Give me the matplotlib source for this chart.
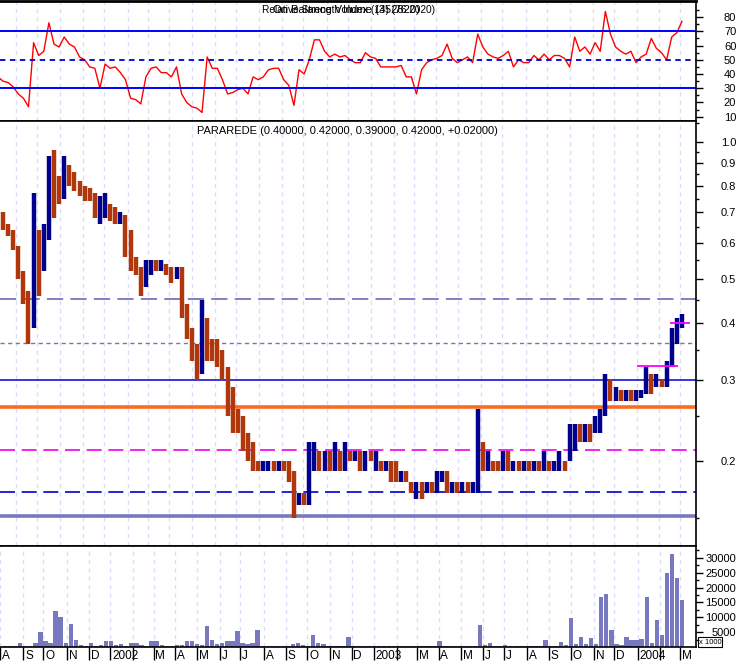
import numpy as np
import pandas as pd
import matplotlib
matplotlib.use("Agg")
import matplotlib.pyplot as plt
from matplotlib.ticker import FixedLocator, NullFormatter, FuncFormatter

plt.rcParams['font.family'] = ['Liberation Sans', 'DejaVu Sans']

# weekly data, first week starts Monday 2001-08-06
start = "2001-08-06"
n_weeks = 135

wk_low = [
    .68, .64, .62, .58, .50, .44, .36, .39, .46, .52,
    .61, .68, .73, .75, .80, .78, .76, .74, .74, .68,
    .66, .68, .67, .66, .66, .56, .52, .51, .46, .48,
    .51, .52, .52, .51, .49, .50, .41, .37, .33, .30,
    .31, .33, .33, .32, .30, .25, .23, .23, .21, .20,
    .19, .19, .19, .19, .19, .19, .19, .18, .15, .16,
    .16, .16, .19, .19, .19, .19, .19, .19, .19, .20,
    .20, .19, .19, .20, .19, .19, .19, .18, .18, .18,
    .18, .17, .165, .165, .17, .17, .17, .18, .17, .17,
    .17, .17, .17, .17, .17, .19, .19, .19, .19, .19,
    .19, .19, .19, .19, .19, .19, .19, .19, .19, .19,
    .19, .19, .20, .21, .22, .22, .22, .23, .23, .25,
    .27, .27, .27, .27, .27, .27, .275, .28, .28, .29,
    .29, .29, .32, .36, .39,
]
wk_high = [
    .71, .70, .66, .64, .59, .52, .47, .77, .64, .66,
    .93, .96, .84, .93, .89, .86, .82, .80, .79, .77,
    .76, .77, .73, .72, .70, .69, .64, .56, .53, .55,
    .55, .55, .55, .54, .53, .53, .53, .44, .39, .36,
    .45, .41, .37, .37, .35, .32, .29, .26, .25, .23,
    .22, .20, .20, .20, .20, .20, .20, .20, .19, .17,
    .17, .22, .22, .21, .21, .21, .22, .21, .22, .21,
    .21, .21, .21, .21, .21, .20, .20, .20, .20, .19,
    .19, .18, .18, .18, .18, .18, .19, .19, .19, .18,
    .18, .18, .18, .18, .26, .22, .21, .20, .20, .21,
    .21, .20, .20, .20, .20, .20, .20, .21, .20, .20,
    .21, .20, .24, .24, .24, .24, .24, .25, .26, .31,
    .30, .29, .285, .285, .285, .285, .285, .32, .31, .31,
    .30, .33, .39, .41, .42,
]
wk_close = [
    .69, .65, .63, .59, .51, .46, .40, .60, .53, .63,
    .88, .80, .76, .88, .84, .80, .79, .76, .75, .70,
    .72, .73, .69, .68, .69, .58, .55, .52, .48, .53,
    .54, .53, .54, .52, .51, .52, .43, .38, .35, .31,
    .38, .36, .35, .33, .31, .26, .25, .24, .22, .21,
    .20, .19, .20, .20, .19, .20, .19, .18, .16, .165,
    .16, .20, .21, .20, .21, .20, .21, .20, .21, .20,
    .21, .20, .21, .20, .20, .19, .20, .19, .18, .19,
    .18, .17, .175, .17, .18, .17, .18, .19, .17, .18,
    .17, .18, .17, .175, .22, .20, .21, .20, .19, .21,
    .19, .20, .19, .20, .19, .20, .19, .20, .19, .20,
    .21, .20, .22, .23, .22, .23, .22, .24, .25, .29,
    .28, .28, .27, .28, .27, .28, .28, .31, .30, .30,
    .29, .32, .37, .38, .42,
]
rsi = [
    38, 35, 34, 31, 26, 23, 17, 62, 53, 56,
    76, 61, 59, 66, 61, 59, 52, 50, 45, 44,
    30, 47, 44, 45, 41, 36, 23, 22, 19, 38,
    44, 45, 41, 41, 38, 45, 26, 20, 17, 16,
    13, 52, 44, 44, 36, 26, 27, 29, 30, 26,
    38, 36, 38, 43, 44, 44, 36, 32, 18, 43,
    40, 50, 64, 64, 56, 52, 54, 52, 53, 50,
    48, 48, 55, 52, 51, 45, 45, 45, 45, 46,
    38, 38, 26, 43, 48, 50, 51, 53, 61, 51,
    48, 50, 52, 48, 68, 59, 54, 52, 51, 53,
    56, 45, 50, 48, 48, 53, 50, 54, 50, 53,
    53, 51, 45, 66, 56, 59, 54, 62, 56, 84,
    68, 59, 56, 54, 56, 48, 52, 54, 65, 58,
    55, 50, 66, 69, 77,
]
volume = [
    300, 200, 300, 1200, 400, 500, 1500, 4900, 2000, 1200,
    12000, 10000, 1200, 7700, 2400, 800, 500, 1300, 400, 800,
    1900, 1900, 600, 1100, 500, 1300, 1300, 600, 500, 1900,
    1900, 600, 500, 400, 600, 700, 1900, 1900, 900, 700,
    7100, 2400, 900, 1200, 1900, 1900, 5500, 1500, 1000, 1300,
    5800, 500, 450, 450, 300, 300, 400, 1000, 1300, 600,
    500, 4100, 1300, 900, 400, 300, 300, 300, 3200, 500,
    500, 400, 300, 300, 300, 200, 300, 300, 200, 300,
    300, 200, 300, 300, 300, 300, 1900, 500, 300, 300,
    200, 200, 300, 300, 7300, 600, 1300, 500, 300, 600,
    300, 400, 300, 300, 300, 300, 300, 2400, 300, 400,
    1700, 600, 9700, 1100, 3300, 1100, 3000, 1100, 17000, 17900,
    5800, 1100, 800, 3300, 2500, 2500, 2700, 17000, 1500, 9100,
    4100, 25000, 31300, 23200, 15700,
]

# horizontal study lines on price panel: (level, color, linewidth, dashes)
levels = [
    (0.452, "#7676bc", 1.3, (9, 4)),
    (0.3616, "#7676aa", 1.0, (3, 2.5)),
    (0.30, "#0000cc", 1.1, None),
    (0.262, "#ff6a22", 2.6, None),
    (0.211, "#ee00ee", 1.2, (9, 4)),
    (0.1707, "#0000cc", 1.2, (9, 4)),
    (0.151, "#7878c0", 2.6, None),
]
# short magenta resistance marks: (from, to, level)
marks = [("2004-01-01", "2004-02-26", 0.322), ("2004-02-16", "2004-03-15", 0.40)]

month_labels = ["A", "S", "O", "N", "D",
                "2002", "", "M", "A", "M", "J", "J", "A", "S", "O", "N", "D",
                "2003", "", "M", "A", "M", "J", "J", "A", "S", "O", "N", "D",
                "2004", "", "M"]

W, H = 741, 663
fig = plt.figure(figsize=(W / 100, H / 100), dpi=100)
fig.patch.set_facecolor("white")


def ax_at(x0, y0, x1, y1):
    return fig.add_axes([x0 / W, 1 - y1 / H, (x1 - x0) / W, (y1 - y0) / H])


ax_rsi = ax_at(0, 1, 696, 121)
ax_px = ax_at(0, 121, 696, 546)
ax_vol = ax_at(0, 546, 696, 647)

d0 = np.datetime64(start)
x = np.arange(n_weeks) * 5 + 2
months = pd.date_range("2001-08-01", "2004-03-01", freq="MS").values.astype("datetime64[D]")
tick_x = np.busday_count(d0, months)
xlim = (4.1, 4.1 + 696 / 1.021)

up = [True] + [wk_close[i] >= wk_close[i - 1] for i in range(1, n_weeks)]
cols = ["#00008f" if u else "#b0360c" for u in up]

for ax in (ax_rsi, ax_px, ax_vol):
    ax.set_xlim(*xlim)
    for t in tick_x:
        ax.axvline(t, color="#dcdcf6", lw=1, dashes=(3, 3), zorder=0)
    ax.spines["left"].set_visible(False)
    for s in ("top", "bottom", "right"):
        ax.spines[s].set_color("black")
        ax.spines[s].set_linewidth(1.2)
    ax.yaxis.tick_right()
    ax.tick_params(axis="y", which="major", direction="out", length=5, width=1, pad=24, labelsize=8)
    ax.tick_params(axis="y", which="minor", direction="out", length=2.5, width=1)
    ax.set_xticks([])

# RSI
ax_rsi.plot(x, rsi, color="red", lw=1)
ax_rsi.axhline(70, color="#0000ff", lw=1.4)
ax_rsi.axhline(30, color="#0000ff", lw=1.4)
ax_rsi.axhline(50, color="#0000cc", lw=1.3, dashes=(3, 2.5))
ax_rsi.set_ylim(7, 91.3)
ax_rsi.yaxis.set_major_locator(FixedLocator(range(10, 90, 10)))
ax_rsi.yaxis.set_minor_locator(FixedLocator(range(15, 95, 10)))
ax_rsi.spines["top"].set_linewidth(2)

# price
ax_px.set_yscale("log")
ax_px.set_ylim(0.13, 1.11)
for lvl, c, lw, ds in levels:
    if ds:
        ax_px.axhline(lvl, color=c, lw=lw, dashes=ds, zorder=1)
    else:
        ax_px.axhline(lvl, color=c, lw=lw, zorder=1)
for a, b, lvl in marks:
    ax_px.hlines(lvl, np.busday_count(d0, np.datetime64(a)), np.busday_count(d0, np.datetime64(b)),
                 color="#ff00ff", lw=1.3, zorder=3)
ax_px.vlines(x, wk_low, wk_high, colors=cols, lw=3.2, zorder=2)
ax_px.yaxis.set_major_locator(FixedLocator([0.2, 0.3, 0.4, 0.5, 0.6, 0.7, 0.8, 0.9, 1.0]))
ax_px.yaxis.set_minor_locator(FixedLocator([0.15, 0.25, 0.35, 0.45, 0.55, 0.65, 0.75, 0.85, 0.95, 1.1]))
ax_px.yaxis.set_major_formatter(FuncFormatter(lambda v, p: "%.1f" % v))
ax_px.yaxis.set_minor_formatter(NullFormatter())

# volume
ax_vol.bar(x, volume, width=4.3, color="#7878c0", edgecolor="none", zorder=2)
ax_vol.set_ylim(0, 34000)
ax_vol.yaxis.set_major_locator(FixedLocator(range(5000, 35000, 5000)))
ax_vol.yaxis.set_minor_locator(FixedLocator(range(2500, 35000, 5000)))
ax_vol.set_xticks(tick_x)
ax_vol.set_xticklabels([])
ax_vol.tick_params(axis="x", direction="out", length=9.5, width=1, color="black")
for t, lab in zip(tick_x, month_labels):
    ax_vol.text(t + 1.8, -0.085, lab, transform=ax_vol.get_xaxis_transform(),
                ha="left", va="center", fontsize=8.5, clip_on=False)

for ax in (ax_rsi, ax_px, ax_vol):
    for lab in ax.get_yticklabels():
        lab.set_horizontalalignment("right")

# titles (the reference shows two study captions printed over each other)
fig.text(347 / W, 1 - 131 / H, "PARAREDE (0.40000, 0.42000, 0.39000, 0.42000, +0.02000)",
         ha="center", va="center", fontsize=8)
fig.text(346 / W, 1 - 10 / H, "On Balance Volume (352820)", ha="center", va="center", fontsize=8)
fig.text(348 / W, 1 - 10 / H, "Relative Strength Index (14) (76.2020)", ha="center", va="center", fontsize=7.3)
fig.text(710 / W, 1 - 642 / H, "x 1000", ha="center", va="center", fontsize=5.5,
         bbox=dict(fc="white", ec="black", lw=0.8, pad=0.8))

fig.savefig("out.png", dpi=100)
